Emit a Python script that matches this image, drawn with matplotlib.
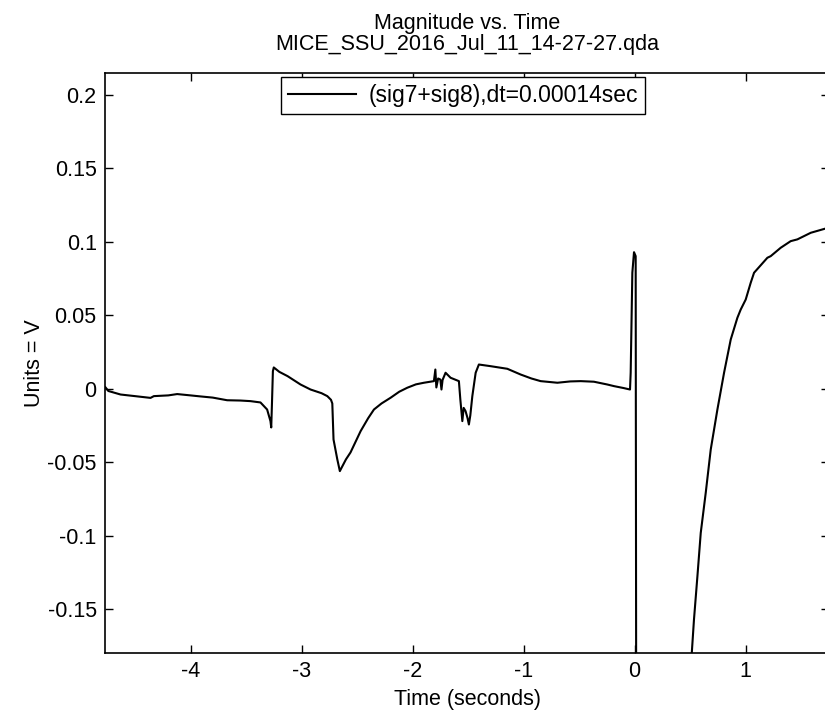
import matplotlib
matplotlib.use("Agg")
import matplotlib.pyplot as plt

plt.rcParams['font.family'] = ['Liberation Sans', 'DejaVu Sans']
plt.rcParams['axes.unicode_minus'] = False

# trace (seconds, volts)
time_s = [-4.766, -4.74, -4.63, -4.50, -4.36, -4.33, -4.20, -4.12, -4.00, -3.91,
          -3.80, -3.67, -3.55, -3.46, -3.37, -3.31, -3.28, -3.273, -3.266, -3.258,
          -3.250, -3.20, -3.126, -3.009, -2.919, -2.82, -2.768, -2.735, -2.723, -2.712,
          -2.678, -2.655, -2.645, -2.600, -2.559, -2.468, -2.40, -2.348, -2.28, -2.198,
          -2.12, -2.048, -1.97, -1.898, -1.808, -1.795, -1.786, -1.770, -1.750, -1.740,
          -1.730, -1.703, -1.658, -1.583, -1.570, -1.552, -1.540, -1.523, -1.505, -1.493,
          -1.480, -1.462, -1.432, -1.403, -1.30, -1.147, -1.027, -0.93, -0.847, -0.696,
          -0.580, -0.486, -0.367, -0.246, -0.186, -0.100, -0.042, -0.036, -0.021, -0.006,
          0.009, 0.024, 0.30, 0.45, 0.514, 0.534, 0.565, 0.595, 0.640, 0.685,
          0.745, 0.805, 0.865, 0.925, 0.955, 1.000, 1.045, 1.075, 1.195, 1.225,
          1.315, 1.405, 1.465, 1.586, 1.72, 1.75]
volts = [0.0010, -0.0015, -0.0039, -0.0050, -0.0062, -0.0050, -0.0045, -0.0036, -0.0045, -0.0052,
         -0.0060, -0.0078, -0.0080, -0.0084, -0.0093, -0.0141, -0.0220, -0.0263, -0.0090, 0.0120,
         0.0145, 0.0115, 0.0086, 0.0029, -0.0005, -0.0030, -0.0050, -0.0075, -0.0100, -0.0345,
         -0.0480, -0.0560, -0.0545, -0.0480, -0.0433, -0.0288, -0.0200, -0.0141, -0.0100, -0.0061,
         -0.0020, 0.0007, 0.0030, 0.0041, 0.0052, 0.0131, 0.0009, 0.0070, 0.0063, -0.0005,
         0.0060, 0.0109, 0.0075, 0.0052, -0.0073, -0.0220, -0.0130, -0.0152, -0.0200, -0.0243,
         -0.0180, -0.0050, 0.0109, 0.0165, 0.0154, 0.0136, 0.0097, 0.0070, 0.0052, 0.0041,
         0.0050, 0.0052, 0.0048, 0.0029, 0.0018, 0.0005, -0.0005, 0.0109, 0.0789, 0.0929,
         0.0902, -0.9, -0.50, -0.27, -0.180, -0.157, -0.1275, -0.098, -0.0707, -0.0413,
         -0.0141, 0.0109, 0.0335, 0.0483, 0.0539, 0.0607, 0.0721, 0.0789, 0.0891, 0.0902,
         0.0959, 0.1004, 0.1016, 0.1061, 0.1090, 0.1098]

x_ticks = [-4, -3, -2, -1, 0, 1]
y_ticks = [-0.15, -0.1, -0.05, 0, 0.05, 0.1, 0.15, 0.2]
y_tick_labels = ['-0.15', '-0.1', '-0.05', '0', '0.05', '0.1', '0.15', '0.2']

fs = 15.5
fig = plt.figure(figsize=(8.25, 7.17), dpi=100)
ax = fig.add_axes([105 / 825, 64 / 717, 724 / 825, 580.5 / 717])

ax.plot(time_s, volts, color='black', linewidth=1.5, label='(sig7+sig8),dt=0.00014sec')

ax.set_xlim(-4.77, 1.75)
ax.set_ylim(-0.1797, 0.2151)
ax.set_xticks(x_ticks)
ax.set_xticklabels([str(t) for t in x_ticks])
ax.set_yticks(y_ticks)
ax.set_yticklabels(y_tick_labels)
ax.tick_params(direction='in', length=6, width=1, top=True, right=True,
               labelsize=fs, pad=6)
for s in ax.spines.values():
    s.set_linewidth(1.2)

ax.set_title('Magnitude vs. Time\nMICE_SSU_2016_Jul_11_14-27-27.qda',
             fontsize=fs, linespacing=1.0, pad=16)
ax.set_xlabel('Time (seconds)', fontsize=fs, labelpad=5)
ax.set_ylabel('Units = V', fontsize=fs, labelpad=2)

leg = ax.legend(loc='upper center', bbox_to_anchor=(0.4945, 1.0), fontsize=16.5,
                frameon=True, fancybox=False, framealpha=1, edgecolor='black',
                handlelength=3.0, handletextpad=0.55, borderpad=0.3, borderaxespad=0.2)
leg.get_frame().set_linewidth(1.0)

fig.savefig('out.png', dpi=100)
